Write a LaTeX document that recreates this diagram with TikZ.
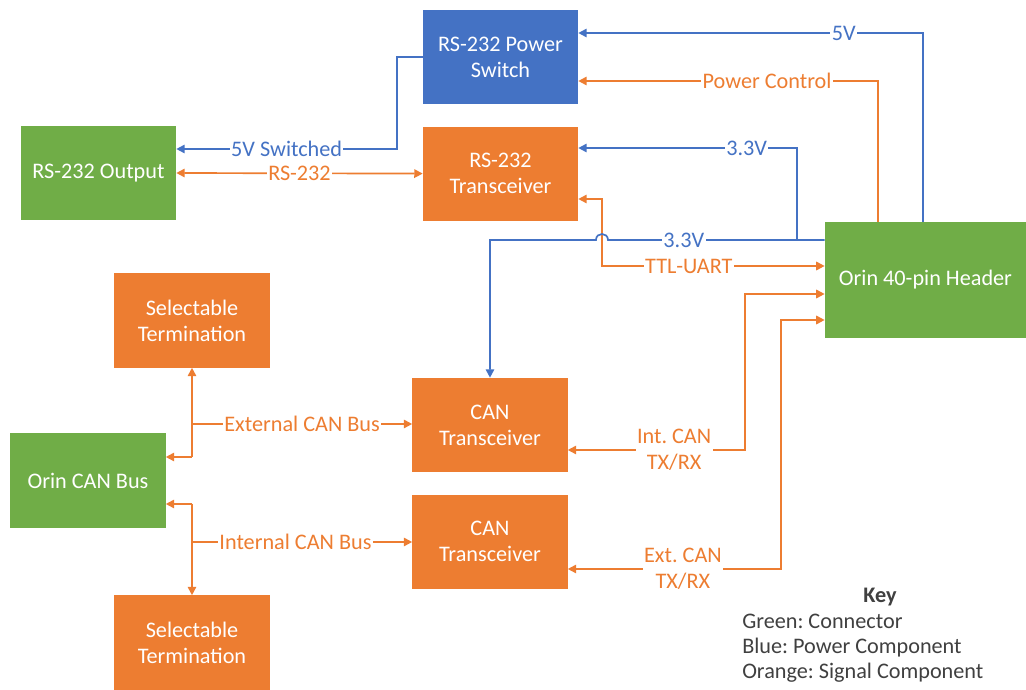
\documentclass[tikz,border=0pt]{standalone}
\usepackage{fontspec}
\setmainfont{Carlito}
\usetikzlibrary{arrows.meta, positioning, calc}
\definecolor{cngreen}{HTML}{70AD47}
\definecolor{pwblue}{HTML}{4472C4}
\definecolor{sgorange}{HTML}{ED7D31}
\definecolor{keygray}{HTML}{404040}
\frenchspacing

\begin{document}
\begin{tikzpicture}[x=0.025cm, y=-0.025cm,
  >={Triangle[length=6pt, width=6pt]},
  every node/.style={font=\fontsize{15.8}{18.4}\selectfont},
  block/.style={minimum width=3.875cm, minimum height=2.35cm, text=white, align=center, inner sep=2pt},
  conn/.style={block, fill=cngreen},
  power/.style={block, fill=pwblue},
  signal/.style={block, fill=sgorange},
  pwr/.style={pwblue, line width=1.2pt},
  sig/.style={sgorange, line width=1.2pt},
  plbl/.style={fill=white, text=pwblue, inner sep=1pt},
  slbl/.style={fill=white, text=sgorange, inner sep=1pt, align=center},
  keytxt/.style={text=keygray, align=left, inner sep=0pt}]

% Background (pixel grid 1026 x 690, y downwards)
\fill[white] (0,0) rectangle (1026,690);

% Blocks
\node[power]  (psw)  at (500.5,57) {RS-232 Power\\Switch};
\node[signal, below=0.55cm of psw] (xcvr) {RS-232\\Transceiver};
\node[conn]   (out)  at (98.5,173) {RS-232 Output};
\node[conn, minimum width=5.025cm, minimum height=2.9cm] (hdr) at (925.5,280) {Orin 40-pin Header};
\node[signal] (termA)  at (192,320.5) {Selectable\\Termination};
\node[conn]   (canbus) at (88,480.5)  {Orin CAN Bus};
\node[signal] (termB)  at (192,642.5) {Selectable\\Termination};
\node[signal] (can1)   at (490,425)   {CAN\\Transceiver};
\node[signal, below=0.55cm of can1] (can2) {CAN\\Transceiver};

% Bend points
\coordinate (c5v)   at (923,33);
\coordinate (cpc)   at (878,81);
\coordinate (csw)   at (397,57);
\coordinate (csw2)  at (397,149);
\coordinate (c33)   at (797,148);
\coordinate (cbus)  at (490,240);
\coordinate (cttl)  at (602,266);
\coordinate (cttl2) at (602,199);
\coordinate (cint)  at (745,450);
\coordinate (cint2) at (745,294);
\coordinate (cext)  at (781,569);
\coordinate (cext2) at (781,320);
\coordinate (cebus) at (192,457);
\coordinate (cebr)  at (192,424);
\coordinate (cibus) at (192,504);
\coordinate (cibr)  at (192,542);
\coordinate (hopR)  at ($(cttl |- cbus)+(6,0)$);
\coordinate (hopL)  at ($(cttl |- cbus)+(-6,0)$);

% Power lines
\draw[pwr,->] (hdr.north -| c5v) -- (c5v) -- node[plbl, pos=0.23] {5V} (psw.east |- c5v);
\draw[pwr,->] (psw.west) -- (csw) -- (csw2) -- node[plbl] {5V Switched} (out.east |- csw2);
\draw[pwr,->] (c33 |- cbus) -- (c33) -- node[plbl, pos=0.23] {3.3V} (xcvr.east |- c33);

% Signal lines, top
\draw[sig,->] (hdr.north -| cpc) -- (cpc) -- node[slbl, pos=0.37] {Power Control} (psw.east |- cpc);
\draw[sig,<->] (out.east) -- node[slbl] {RS-232} (xcvr.west);
\draw[sig,<->] (xcvr.east |- cttl2) -- (cttl2) -- (cttl) -- node[slbl, pos=0.39] {TTL-UART} (hdr.west |- cttl);

% 3.3V bus with hop over TTL-UART
\draw[pwr,->] (hdr.west |- cbus) -- node[plbl, pos=0.65] {3.3V} (hopR)
  .. controls ($(hopR)+(0,-8)$) and ($(hopL)+(0,-8)$) .. (hopL) -- (cbus) -- (can1.north);

% CAN TX/RX to header
\draw[sig,<->] (can1.east |- cint) -- node[slbl, pos=0.6] {Int. CAN\\TX/RX} (cint) -- (cint2) -- (hdr.west |- cint2);
\draw[sig,<->] (can2.east |- cext) -- node[slbl, pos=0.54] {Ext. CAN\\TX/RX} (cext) -- (cext2) -- (hdr.west |- cext2);

% CAN buses
\draw[sig,->] (cebus) -- (termA.south);
\draw[sig,->] (cebus) -- (canbus.east |- cebus);
\draw[sig,->] (cebr) -- node[slbl] {External CAN Bus} (can1.west |- cebr);
\draw[sig,->] (cibus) -- (termB.north);
\draw[sig,->] (cibus) -- (canbus.east |- cibus);
\draw[sig,->] (cibr) -- node[slbl, pos=0.47] {Internal CAN Bus} (can2.west |- cibr);

% Key
\node[keytxt, font=\fontsize{15.8}{18.4}\selectfont\bfseries] (keyhead) at (880,597) {Key};
\node[keytxt, anchor=west, font=\fontsize{15.8}{17.7}\selectfont] (keylist) at (742,648)
  {Green: Connector\\Blue: Power Component\\Orange: Signal Component};

\end{tikzpicture}
\end{document}
